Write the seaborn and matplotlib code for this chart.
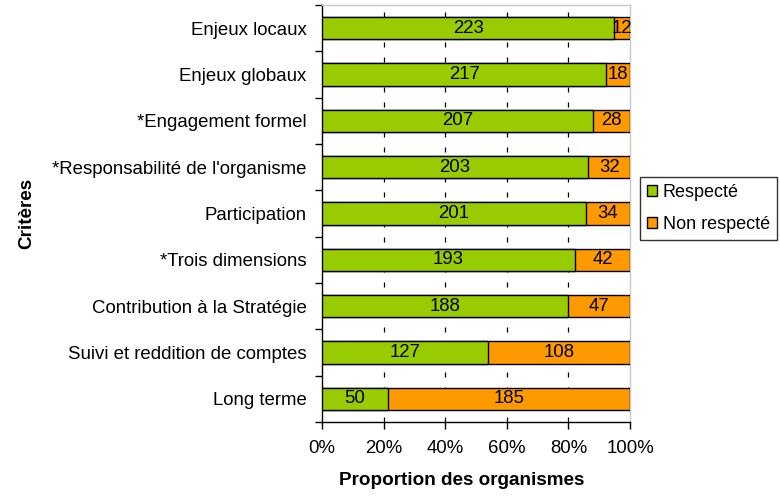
import matplotlib
matplotlib.use("Agg")
import matplotlib.pyplot as plt
from matplotlib.patches import Patch
from matplotlib.ticker import FixedLocator, PercentFormatter
import numpy as np
import pandas as pd
import seaborn as sns

criteres = [
    "Enjeux locaux",
    "Enjeux globaux",
    "*Engagement formel",
    "*Responsabilité de l'organisme",
    "Participation",
    "*Trois dimensions",
    "Contribution à la Stratégie",
    "Suivi et reddition de comptes",
    "Long terme",
]
respecte = [223, 217, 207, 203, 201, 193, 188, 127, 50]
non_respecte = [12, 18, 28, 32, 34, 42, 47, 108, 185]

GREEN = "#99CC00"
ORANGE = "#FF9900"

sns.set_theme(style="white")
plt.rcParams["font.family"] = ["Liberation Sans", "DejaVu Sans"]
plt.rcParams["text.color"] = "black"
plt.rcParams["axes.labelcolor"] = "black"

FS = 13.4

df = pd.DataFrame({"critere": criteres, "respecte": respecte, "non": non_respecte})
df["total"] = df["respecte"] + df["non"]
df["p_resp"] = df["respecte"] / df["total"]
df["p_tot"] = (df["respecte"] + df["non"]) / df["total"]

fig = plt.figure(figsize=(7.8, 4.96), dpi=100)
ax = fig.add_axes([0.4128, 0.1492, 0.395, 0.8407])

# full-width bar (orange) with the green share drawn on top
sns.barplot(data=df, y="critere", x="p_tot", color=ORANGE, orient="h",
            width=0.48, edgecolor="black", linewidth=1.0, saturation=1, ax=ax, zorder=3)
sns.barplot(data=df, y="critere", x="p_resp", color=GREEN, orient="h",
            width=0.48, edgecolor="black", linewidth=1.0, saturation=1, ax=ax, zorder=4)

n = len(criteres)
for i, (r, nr) in enumerate(zip(respecte, non_respecte)):
    tot = r + nr
    ax.text(r / tot / 2, i, str(r), ha="center", va="center", fontsize=FS, color="black", zorder=5)
    ax.text(r / tot + nr / tot / 2, i, str(nr), ha="center", va="center", fontsize=FS,
            color="black", zorder=5)

ax.set_xlim(0, 1)
ax.set_ylim(n - 0.5, -0.5)
ax.xaxis.set_major_locator(FixedLocator(np.linspace(0, 1, 6)))
ax.xaxis.set_major_formatter(PercentFormatter(1.0, decimals=0))
for gx in [0.2, 0.4, 0.6, 0.8]:
    ax.axvline(gx, color="black", linestyle=(0, (4, 8)), linewidth=0.9, zorder=1)

ax.set_yticks(range(n))
ax.set_yticklabels(criteres)
ax.yaxis.set_minor_locator(FixedLocator(np.arange(-0.5, n, 1.0)))
ax.tick_params(axis="y", which="major", length=0, pad=11, labelsize=FS, colors="black")
ax.tick_params(axis="y", which="minor", length=5, width=1, color="black", left=True)
ax.tick_params(axis="x", which="major", length=5, width=1, color="black", bottom=True,
               labelsize=FS, pad=8, colors="black")

for side in ["left", "bottom"]:
    ax.spines[side].set_color("black")
    ax.spines[side].set_linewidth(1.0)
for side in ["top", "right"]:
    ax.spines[side].set_visible(True)
    ax.spines[side].set_color("#c8c8c8")
    ax.spines[side].set_linewidth(1.0)

ax.set_xlabel("Proportion des organismes", fontsize=13.6, fontweight="bold")
ax.xaxis.set_label_coords(0.455, -0.12)
ax.set_ylabel("Critères", fontsize=13.6, fontweight="bold")
ax.yaxis.set_label_coords(-0.93, 0.5)

handles = [Patch(facecolor=GREEN, edgecolor="black", label="Respecté"),
           Patch(facecolor=ORANGE, edgecolor="black", label="Non respecté")]
leg = fig.legend(handles=handles, loc="upper left", bbox_to_anchor=(0.8205, 0.643),
                 frameon=True, fancybox=False, fontsize=13, handlelength=0.55,
                 handleheight=0.55, handletextpad=0.3, borderpad=0.4, labelspacing=0.8,
                 borderaxespad=0)
leg.get_frame().set_edgecolor("black")
leg.get_frame().set_linewidth(1.0)

fig.savefig("out.png", dpi=100)
